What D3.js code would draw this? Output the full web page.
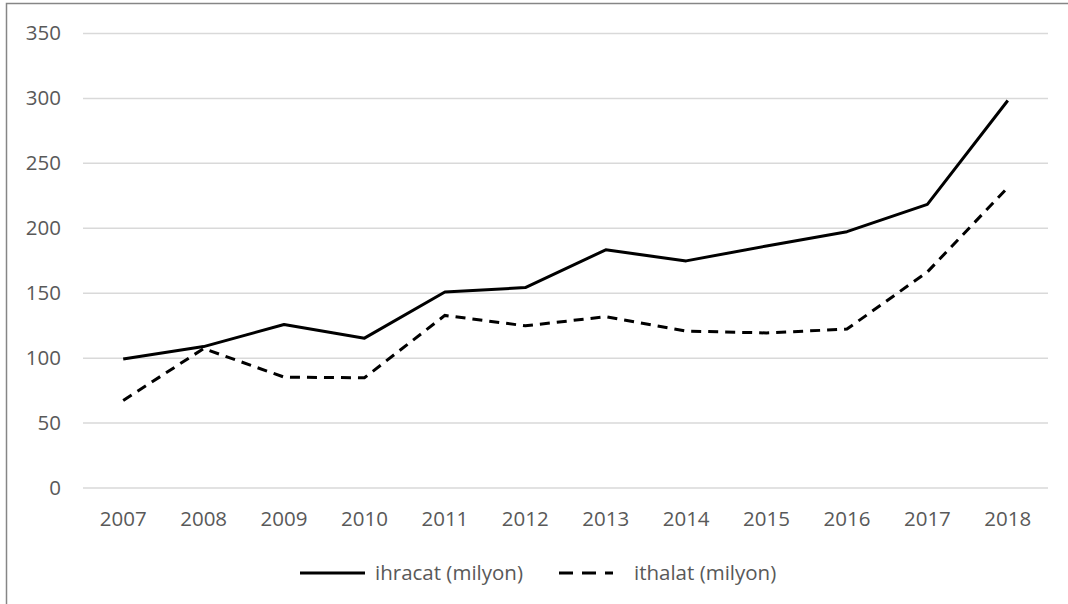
<!DOCTYPE html>
<html>
<head>
<meta charset="utf-8">
<script src="https://cdn.jsdelivr.net/npm/d3@7"></script>
<style>
  body { margin: 0; background: #fff; }
  text { font-family: "Open Sans", sans-serif; }
</style>
</head>
<body>
<div id="chart"></div>
<script>
// data
const years = ["2007","2008","2009","2010","2011","2012","2013","2014","2015","2016","2017","2018"]
const ihracat = [99, 108.5, 125.5, 115, 150.5, 154, 183, 174.5, 186, 197, 218, 298]
const ithalat = [67, 107, 85, 84.5, 132.5, 124.5, 131.5, 120.5, 119, 122, 166, 231]
const yTicks = [0, 50, 100, 150, 200, 250, 300, 350]

const w = 1068, h = 604
const margin = {left: 83, right: 20, top: 33, bottom: 117}
const fontColor = "#595959"
const fontSize = "20.5px"

const svg = d3.select("#chart").append("svg")
    .attr("width", w)
    .attr("height", h)

// outer frame
svg.append("rect")
    .attr("x", 6.5).attr("y", 3.5)
    .attr("width", w).attr("height", h)
    .attr("fill", "none")
    .attr("stroke", "#868686")
    .attr("stroke-width", 1.5)

const x = d3.scaleBand()
    .domain(years)
    .range([margin.left, w - margin.right])

const y = d3.scaleLinear()
    .domain([0, 350])
    .range([h - margin.bottom + 0.5, margin.top])

// grid
const yAxis = svg.append("g")
    .attr("class", "axisLeft")
    .attr("transform", `translate(${margin.left}, 0)`)
    .call(d3.axisLeft(y).tickValues(yTicks).tickSize(-(w - margin.right - margin.left)).tickPadding(22))

yAxis.select(".domain").remove()
yAxis.selectAll("line")
    .attr("stroke", "#d9d9d9")
    .attr("stroke-width", 1.5)
yAxis.selectAll("text")
    .attr("fill", fontColor)
    .style("font-size", fontSize)

const xAxis = svg.append("g")
    .attr("class", "axisBottom")
    .attr("transform", `translate(0, ${y(0)})`)
    .call(d3.axisBottom(x).tickSize(0).tickPadding(24))

xAxis.select(".domain").remove()
xAxis.selectAll("text")
    .attr("fill", fontColor)
    .style("font-size", fontSize)

const line = d3.line()
    .x((d, i) => x(years[i]) + x.bandwidth() / 2)
    .y(d => y(d))

svg.append("path")
    .datum(ihracat)
    .attr("d", line)
    .attr("fill", "none")
    .attr("stroke", "#000")
    .attr("stroke-width", 3)
    .attr("stroke-linejoin", "round")

svg.append("path")
    .datum(ithalat)
    .attr("d", line)
    .attr("fill", "none")
    .attr("stroke", "#000")
    .attr("stroke-width", 3)
    .attr("stroke-dasharray", "10,7")

// legend
const legend = svg.append("g").attr("class", "legend")
const legendItems = [
    {label: "ihracat (milyon)", x: 300, len: 65, gap: 10, dash: null},
    {label: "ithalat (milyon)", x: 559, len: 54, gap: 21, dash: "14,9"}
]
legendItems.forEach(item => {
    legend.append("line")
        .attr("x1", item.x).attr("x2", item.x + item.len)
        .attr("y1", 573).attr("y2", 573)
        .attr("stroke", "#000")
        .attr("stroke-width", 3)
        .attr("stroke-dasharray", item.dash)
    legend.append("text")
        .attr("x", item.x + item.len + item.gap)
        .attr("y", 573)
        .attr("dy", "0.35em")
        .attr("fill", fontColor)
        .style("font-size", fontSize)
        .text(item.label)
})
</script>
</body>
</html>
